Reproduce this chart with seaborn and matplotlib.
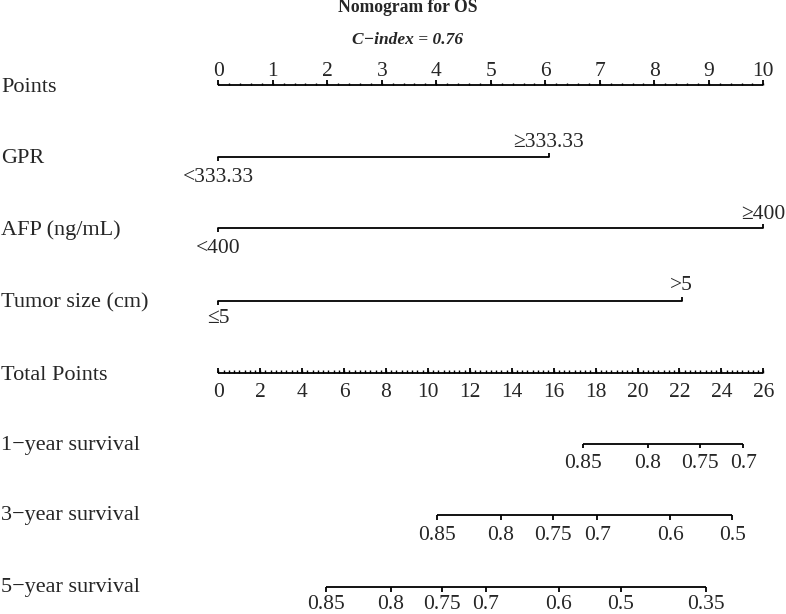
import numpy as np
import pandas as pd
import seaborn as sns
import matplotlib.pyplot as plt

# nomogram content
variables = ["GPR", "AFP (ng/mL)", "Tumor size (cm)"]
low_levels = ["<333.33", "<400", "\u22645"]
high_levels = ["\u2265333.33", "\u2265400", ">5"]
high_points = [6.06, 10.0, 8.5]

max_points = 10
max_total = 26

surv_names = ["1\u2212year survival", "3\u2212year survival", "5\u2212year survival"]
surv_1y = [0.85, 0.8, 0.75, 0.7]
tp_1y = [17.40, 20.49, 22.96, 25.05]
surv_3y = [0.85, 0.8, 0.75, 0.7, 0.6, 0.5]
tp_3y = [10.42, 13.49, 15.97, 18.07, 21.55, 24.51]
surv_5y = [0.85, 0.8, 0.75, 0.7, 0.6, 0.5, 0.35]
tp_5y = [5.14, 8.22, 10.69, 12.76, 16.25, 19.20, 23.26]

title = "Nomogram for OS"
cindex = "C\u2212index = 0.76"

sns.set_theme(style="white")
plt.rcParams["font.family"] = ["Liberation Serif", "DejaVu Serif"]
FS = 15.5
FS_LAB = 16
LW = 1.3

fig = plt.figure(figsize=(7.86, 6.14), dpi=100)
ax = fig.add_axes([0, 0, 1, 1])
# x in points units, y in pixel rows
px = 54.5
xlim = (-218.3 / px, (786 - 218.3) / px)
lt = ax.get_yaxis_transform()

def left_label(txt, y):
    ax.text(1 / 786, y, txt, transform=lt, fontsize=FS_LAB, va="baseline", ha="left")

# title
ax.text(408 / 786, 12.5, title, transform=lt, fontsize=12.7, fontweight="bold",
        ha="center", va="baseline")
ax.text(408 / 786, 43.5, cindex, transform=lt, fontsize=12.5, fontweight="bold",
        fontstyle="italic", ha="center", va="baseline")

# Points axis
y_pts = 85
left_label("Points", 92)
ax.hlines(y_pts, 0, max_points, color="black", lw=LW)
minor = np.arange(0, max_points + 0.001, 0.2)
ax.vlines(minor, y_pts - 2.5, y_pts, color="black", lw=1.0)
major = np.arange(0, max_points + 1)
ax.vlines(major, y_pts - 5, y_pts, color="black", lw=LW)
for v in major:
    ax.text(v, 76, f"{v}", fontsize=FS, ha="center", va="baseline")

# variable rows
rows_y = [156.5, 228, 300.5]
lab_y = [163, 235, 307]
low_base = [182, 253, 323]
high_base = [147, 219, 290]
seg = pd.DataFrame({
    "points": [p for hp in high_points for p in (0, hp)],
    "row": [r for r in rows_y for _ in range(2)],
    "variable": [v for v in variables for _ in range(2)],
})
sns.lineplot(data=seg, x="points", y="row", units="variable", estimator=None,
             color="black", lw=LW, ax=ax, legend=False)
for name, lo, hi, hp, y, ly, lb, hb in zip(variables, low_levels, high_levels, high_points,
                                           rows_y, lab_y, low_base, high_base):
    left_label(name, ly)
    ax.vlines(0, y, y + 4, color="black", lw=LW)
    ax.vlines(hp, y - 4, y, color="black", lw=LW)
    ax.text(0, lb, lo, fontsize=FS, ha="center", va="baseline")
    ax.text(hp, hb, hi, fontsize=FS, ha="center", va="baseline")

# Total Points axis
scale = max_points / max_total
y_tot = 372.5
left_label("Total Points", 380)
ax.hlines(y_tot, 0, max_total * scale, color="black", lw=LW)
tminor = np.arange(0, max_total + 0.001, 0.25)
ax.vlines(tminor * scale, y_tot - 2.5, y_tot, color="black", lw=1.0)
tmajor = np.arange(0, max_total + 1, 2)
ax.vlines(tmajor * scale, y_tot - 4.5, y_tot, color="black", lw=LW)
for v in tmajor:
    ax.text(v * scale, 397, f"{v}", fontsize=FS, ha="center", va="baseline")

# survival rows
surv = [(surv_1y, tp_1y), (surv_3y, tp_3y), (surv_5y, tp_5y)]
surv_y = [443.5, 515, 587]
surv_lab = [450, 520, 592]
surv_tick_base = [468.5, 540, 609]
for name, (probs, tps), y, ly, tb in zip(surv_names, surv, surv_y, surv_lab, surv_tick_base):
    left_label(name, ly)
    xs = np.array(tps) * scale
    ax.hlines(y, xs.min(), xs.max(), color="black", lw=LW)
    ax.vlines(xs, y, y + 4.5, color="black", lw=LW)
    for x, p in zip(xs, probs):
        ax.text(x, tb, f"{p:g}", fontsize=FS, ha="center", va="baseline")

ax.set_xlim(*xlim)
ax.set_ylim(614, 0)
ax.axis("off")

fig.savefig("out.png", dpi=100)
